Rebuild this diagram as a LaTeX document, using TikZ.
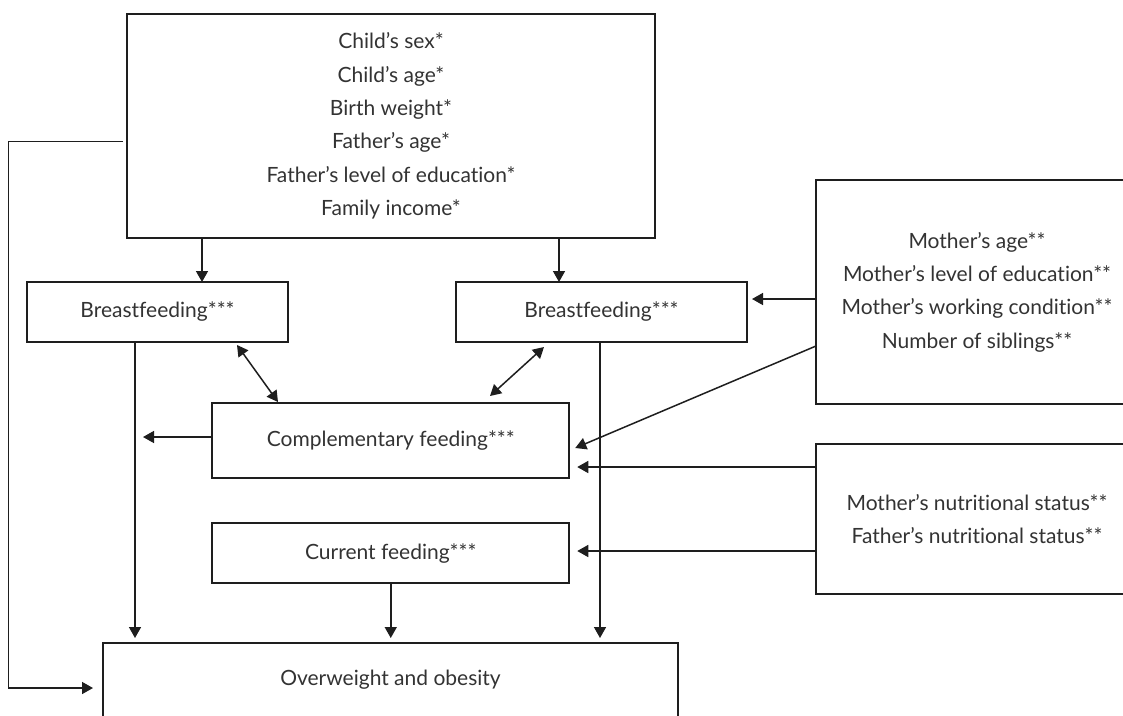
\documentclass[tikz,border=0pt]{standalone}
\usepackage{fontspec}
\setmainfont{Lato}[Ligatures=NoCommon]
\usetikzlibrary{arrows.meta}
\definecolor{txt}{HTML}{333333}
\definecolor{ln}{HTML}{1E1E1E}
\begin{document}
\begin{tikzpicture}[x=1pt,y=-1pt,
  box/.style={draw=ln,line width=1.6pt,inner sep=0pt,outer sep=0pt,text=txt,align=center,
    font=\fontsize{21}{33.4}\selectfont},
  arr/.style={draw=ln,line width=1.5pt,-{Triangle[length=11pt,width=12pt]}},
  darr/.style={draw=ln,line width=1.5pt,{Triangle[length=11pt,width=12pt]}-{Triangle[length=11pt,width=12pt]}}]
\useasboundingbox (0,0) rectangle (1123,715);
\clip (0,0) rectangle (1123,715);
\fill[white] (0,0) rectangle (1123,715);

\node[box,minimum width=528pt,minimum height=224pt] (top) at (391,126)
  {Child’s sex*\\Child’s age*\\Birth weight*\\Father’s age*\\Father’s level of education*\\Family income*};
\node[box,minimum width=261pt,minimum height=60pt] (bfl) at (157.5,312) {Breastfeeding***};
\node[box,minimum width=291pt,minimum height=60pt] (bfr) at (601.5,312) {Breastfeeding***};
\node[box,minimum width=357pt,minimum height=75pt] (comp) at (390.75,440.5) {Complementary feeding***};
\node[box,minimum width=357pt,minimum height=60pt] (cur) at (390.75,553) {Current feeding***};
\node[box,minimum width=575pt,minimum height=74pt] (ow) at (390.5,680) {Overweight and obesity};
\node[box,minimum width=322pt,minimum height=224pt] (r1) at (977,292)
  {Mother’s age**\\Mother’s level of education**\\Mother’s working condition**\\Number of siblings**};
\node[box,minimum width=322pt,minimum height=150pt] (r2) at (977,519)
  {Mother’s nutritional status**\\Father’s nutritional status**};

\coordinate (lc) at (8.3,141.7);
\coordinate (cl) at (143,437);

\draw[arr] ([xshift=-4pt,yshift=-15.7pt]top.west) -- (lc) |- ([xshift=-10pt,yshift=-8pt]ow.west);
\draw[arr] ([xshift=-189pt]top.south) -- ([xshift=44.5pt]bfl.north);
\draw[arr] ([xshift=168pt]top.south) -- ([xshift=-42.5pt]bfr.north);
\draw[arr] ([yshift=-7pt]r1.west) -- ([xshift=5pt,yshift=13pt]bfr.east);
\draw[arr] ([yshift=-54pt]r1.west) -- ([xshift=6pt,yshift=-7.5pt]comp.east);
\draw[arr] ([yshift=52pt]r2.west) -- ([xshift=8pt,yshift=-26.5pt]comp.east);
\draw[arr] ([yshift=-32pt]r2.west) -- ([xshift=8pt,yshift=2pt]cur.east);
\draw[arr] ([yshift=3.5pt]comp.west) -- (cl);
\draw[darr] ([xshift=79.5pt,yshift=-3pt]bfl.south) -- ([xshift=-112.75pt,yshift=1pt]comp.north);
\draw[darr] ([xshift=-57.5pt,yshift=-5pt]bfr.south) -- ([xshift=99.25pt,yshift=7pt]comp.north);
\draw[arr] ([xshift=-22.5pt]bfl.south) -- ([xshift=-255.5pt,yshift=5pt]ow.north);
\draw[arr] ([xshift=-1.5pt]bfr.south) -- ([xshift=209.5pt,yshift=5pt]ow.north);
\draw[arr] (cur.south) -- ([xshift=0.25pt,yshift=5pt]ow.north);
\end{tikzpicture}
\end{document}
